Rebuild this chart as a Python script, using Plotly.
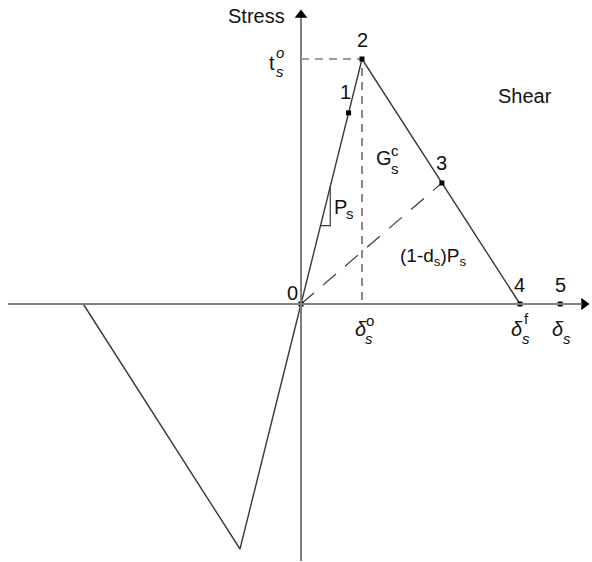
import plotly.graph_objects as go

# traction-separation law for shear (normalised units: delta_o = 1, t_o = 1)
stage_labels = ["0", "1", "2", "3", "4", "5"]
stage_disp = [0.0, 0.78, 1.0, 2.31, 3.59, 4.25]
stage_stress = [0.0, 0.78, 1.0, 0.494, 0.0, 0.0]

envelope_disp = [0.0, 1.0, 3.59]
envelope_stress = [0.0, 1.0, 0.0]

neg_disp = [0.0, -1.0, -3.57]
neg_stress = [0.0, -1.0, 0.0]

unload_disp = [0.0, 2.31]
unload_stress = [0.0, 0.494]

peak_disp = 1.0
peak_stress = 1.0

slope_disp = [0.32, 0.48, 0.48]
slope_stress = [0.32, 0.32, 0.48]

FONT = "Liberation Sans, Arial, sans-serif"
LINE = "#3a3a3a"
AXIS = "#808080"

# page geometry: origin at pixel (301, 304), 61 px per disp unit, 245 px per stress unit
W, H = 592, 562
OX, OY, SX, SY = 301, 304, 61.0, 245.0


def px(x):
    return (x - OX) / SX


def py(y):
    return (OY - y) / SY


fig = go.Figure()

# axes
fig.add_shape(type="line", x0=px(8), x1=px(582), y0=0, y1=0,
              line=dict(color=AXIS, width=2))
fig.add_shape(type="line", x0=0, x1=0, y0=py(561), y1=py(18),
              line=dict(color=AXIS, width=2))
fig.add_trace(go.Scatter(x=[px(584)], y=[0], mode="markers",
                         marker=dict(symbol="triangle-right", size=11, color="black"),
                         hoverinfo="skip"))
fig.add_trace(go.Scatter(x=[0], y=[py(15)], mode="markers",
                         marker=dict(symbol="triangle-up", size=11, color="black"),
                         hoverinfo="skip"))

# guides to the peak
fig.add_trace(go.Scatter(x=[0, peak_disp, peak_disp], y=[peak_stress, peak_stress, 0],
                         mode="lines", line=dict(color=LINE, width=1.2, dash="8px,6px"),
                         hoverinfo="skip"))
# unloading path
fig.add_trace(go.Scatter(x=unload_disp, y=unload_stress, mode="lines",
                         line=dict(color=LINE, width=1.2, dash="17px,12px"),
                         hoverinfo="skip"))
# envelopes
fig.add_trace(go.Scatter(x=envelope_disp, y=envelope_stress, mode="lines",
                         line=dict(color=LINE, width=1.4), hoverinfo="skip"))
fig.add_trace(go.Scatter(x=neg_disp, y=neg_stress, mode="lines",
                         line=dict(color=LINE, width=1.4), hoverinfo="skip"))
# stiffness triangle
fig.add_trace(go.Scatter(x=slope_disp, y=slope_stress, mode="lines",
                         line=dict(color=LINE, width=1.2), hoverinfo="skip"))
# stage points
fig.add_trace(go.Scatter(x=stage_disp, y=stage_stress, mode="markers",
                         marker=dict(symbol="square", size=5, color="black"),
                         hoverinfo="skip"))

ann = []


def lab(x, y, text, size=20, italic=False):
    if italic:
        text = "<i>" + text + "</i>"
    ann.append(dict(x=px(x), y=py(y), text=text, showarrow=False,
                    font=dict(family=FONT, size=size, color="#111111"),
                    xanchor="center", yanchor="middle"))


# stage numbers
offsets = [(-9, -11), (-3, -21), (0, -19), (0, -20), (0, -19), (0, -19)]
for lbl, d, s, (dx, dy) in zip(stage_labels, stage_disp, stage_stress, offsets):
    ann.append(dict(x=d, y=s, text=lbl, showarrow=False, xshift=dx, yshift=-dy,
                    font=dict(family=FONT, size=20, color="#111111"),
                    xanchor="center", yanchor="middle"))

lab(256, 16, "Stress")
lab(525, 96, "Shear")

# t_s^o
lab(272, 63, "t")
lab(280, 52, "o", 15, True)
lab(280, 71, "s", 15, True)

# delta labels
lab(361, 329, "δ", 20, True)
lab(370, 320, "o", 15)
lab(369, 338, "s", 15, True)

lab(517, 329, "δ", 20, True)
lab(526, 318, "f", 15)
lab(526, 338, "s", 15, True)

lab(558, 329, "δ", 20, True)
lab(567, 338, "s", 15, True)

# G_s^c
lab(384, 158, "G")
lab(395, 150, "c", 15)
lab(395, 168, "s", 15)

# P_s
lab(340, 207, "P")
lab(350, 213, "s", 15)

lab(433, 257, "(1-d<sub>s</sub>)P<sub>s</sub>", 19)

fig.update_layout(
    width=W, height=H,
    margin=dict(l=0, r=0, t=0, b=0),
    paper_bgcolor="white", plot_bgcolor="white",
    showlegend=False,
    annotations=ann,
    xaxis=dict(range=[px(0), px(W)], visible=False, fixedrange=True),
    yaxis=dict(range=[py(H), py(0)], visible=False, fixedrange=True),
)

fig.write_html("out.html", config={"displayModeBar": False},
               post_script="document.body.style.margin='0px';")
